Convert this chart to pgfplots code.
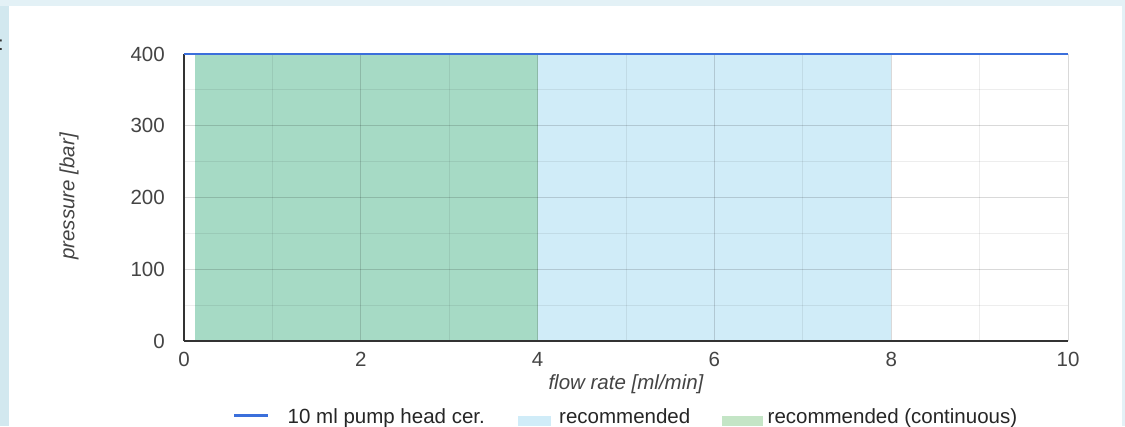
\documentclass[border=0pt]{standalone}
\usepackage{fontspec}
\setmainfont{Liberation Sans}
\usepackage{pgfplots}
\pgfplotsset{compat=1.18}
\definecolor{bgblue}{HTML}{E3F1F6}
\definecolor{bgleft}{HTML}{D2E8EF}
\definecolor{lineblue}{HTML}{3B6FDB}
\definecolor{recblue}{HTML}{D0ECF8}
\definecolor{recgreen}{HTML}{A6DAC5}
\definecolor{leggreen}{HTML}{C4E5C6}
\definecolor{txt}{HTML}{444444}
\definecolor{axisc}{HTML}{333333}
\pgfplotsset{common/.style={
  at={(184pt,85pt)}, anchor=south west,
  scale only axis, width=884pt, height=287pt,
  xmin=0, xmax=10, ymin=0, ymax=400}}
\begin{document}
\begin{tikzpicture}[x=1pt,y=1pt]
\fill[bgblue] (0,0) rectangle (1125,426);
\fill[bgleft] (0,0) rectangle (9,420);
\fill[white] (9,0) rectangle (1122,420);
\node[anchor=west, inner sep=0, font=\fontsize{20}{24}\selectfont, text=axisc] at (-2,381) {:};
\begin{axis}[
  common,
  axis on top,
  xtick={0,2,...,10}, minor xtick={1,3,...,9},
  ytick={0,100,...,400}, minor ytick={50,150,...,350},
  grid=both,
  major grid style={black, opacity=0.15, line width=1pt},
  minor grid style={black, opacity=0.07, line width=1pt},
  axis x line*=bottom, axis y line*=left,
  axis line style={axisc, line width=1.5pt},
  major tick length=0pt, minor tick length=0pt,
  /pgf/number format/assume math mode=true,
  tick label style={font=\fontsize{20.5}{24}\selectfont, text=txt},
  xticklabel style={inner sep=0pt, yshift=-11pt},
  yticklabel style={inner sep=0pt, xshift=-19pt},
  xlabel={flow rate [ml/min]},
  ylabel={pressure [bar]},
  label style={font=\fontsize{20.5}{24}\selectfont\itshape, text=txt},
  x label style={at={(axis description cs:0.5,-0.152)}, anchor=center, inner sep=0pt},
  y label style={at={(axis description cs:-0.130,0.5035)}, anchor=center, inner sep=0pt},
]
\addplot[fill=recblue, draw=none] coordinates {(4,400) (8,400)} \closedcycle;
\addplot[fill=recgreen, draw=none] coordinates {(0.12,400) (4,400)} \closedcycle;
\end{axis}
\begin{axis}[
  common,
  hide axis,
  legend columns=3,
  legend cell align=left,
  legend style={at={(axis description cs:0,0)}, anchor=west, xshift=49pt, yshift=-75.5pt,
    draw=none, fill=none, inner sep=0pt, nodes={inner sep=0pt},
    font=\fontsize{20.5}{24}\selectfont, text=black!85},
]
\addplot[lineblue, line width=2.5pt,
  legend image code/.code={\draw[lineblue, line width=2.5pt] (0pt,1pt) -- (34pt,1pt); \path (0pt,9pt) (52pt,-9pt);}]
  coordinates {(0,400) (10,400)};
\addlegendentry{10 ml pump head cer.}
\addlegendimage{legend image code/.code={\fill[recblue] (0pt,-8.3pt) rectangle (32pt,0.7pt); \path (-33pt,9pt) (41pt,-9pt);}}
\addlegendentry{recommended}
\addlegendimage{legend image code/.code={\fill[leggreen] (0pt,-8.3pt) rectangle (40pt,0.7pt); \path (-32pt,9pt) (45pt,-9pt);}}
\addlegendentry{recommended (continuous)}
\end{axis}
\pgfresetboundingbox
\path[use as bounding box] (0,0) rectangle (1125,426);
\end{tikzpicture}
\end{document}
